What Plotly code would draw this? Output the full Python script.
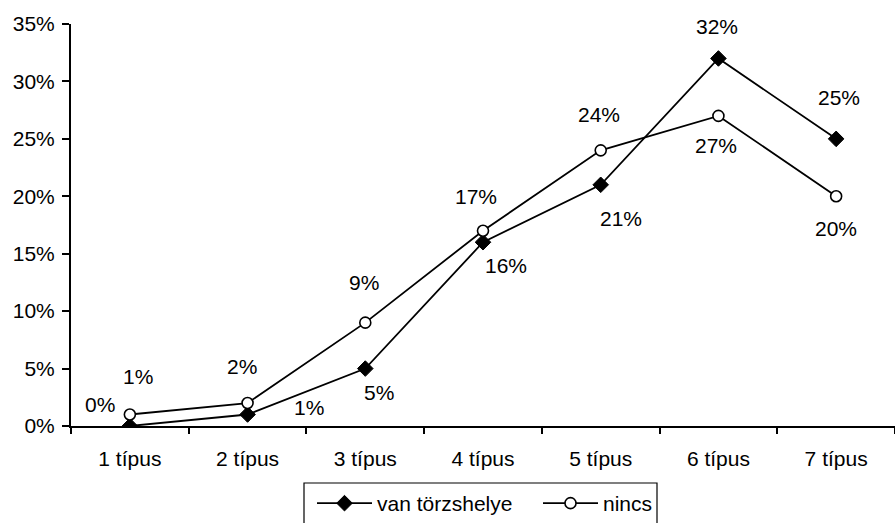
import plotly.graph_objects as go

categories = ["1 típus", "2 típus", "3 típus", "4 típus", "5 típus", "6 típus", "7 típus"]
van_torzshelye = [0, 1, 5, 16, 21, 32, 25]
nincs = [1, 2, 9, 17, 24, 27, 20]

# label offsets (px) relative to each point
van_offsets = [(-30, 22), (61, 7), (14, -24), (23, -23), (20, -34), (-1, 32), (3, 41)]
nincs_offsets = [(8, 38), (-6, 37), (-1, 40), (-7, 34), (-2, 36), (-2, -30), (0, -32)]

FONT = "Liberation Sans, Arial, sans-serif"
FS = 21

fig = go.Figure()
fig.add_trace(go.Scatter(
    x=categories, y=van_torzshelye, name="van törzshelye", mode="lines+markers",
    line=dict(color="black", width=1.8),
    marker=dict(symbol="diamond", size=12, color="black", line=dict(color="black", width=1)),
))
fig.add_trace(go.Scatter(
    x=categories, y=nincs, name="nincs", mode="lines+markers",
    line=dict(color="black", width=1.8),
    marker=dict(symbol="circle", size=11, color="white", line=dict(color="black", width=1.6)),
))

annotations = []
for cat, v, (dx, dy) in zip(categories, van_torzshelye, van_offsets):
    annotations.append(dict(x=cat, y=v, xref="x", yref="y", text=f"{v}%", showarrow=False,
                            xshift=dx, yshift=dy, font=dict(family=FONT, size=FS, color="black")))
for cat, v, (dx, dy) in zip(categories, nincs, nincs_offsets):
    annotations.append(dict(x=cat, y=v, xref="x", yref="y", text=f"{v}%", showarrow=False,
                            xshift=dx, yshift=dy, font=dict(family=FONT, size=FS, color="black")))

# plot area in pixels: left 71, right 895, top 24, bottom 426
PL, PR, PT, PB = 71, 895, 24, 426
def px_x(px):
    return (px - PL) / (PR - PL)
def px_y(py):
    return (PB - py) / (PB - PT)

legend_box = dict(type="rect", xref="paper", yref="paper",
                  x0=px_x(304), x1=px_x(657), y0=px_y(483), y1=px_y(540),
                  line=dict(color="black", width=1.2), fillcolor="rgba(0,0,0,0)", layer="above")

fig.update_layout(
    width=895, height=523,
    margin=dict(l=71, r=0, t=24, b=97),
    paper_bgcolor="white", plot_bgcolor="white",
    font=dict(family=FONT, size=FS, color="black"),
    showlegend=True,
    legend=dict(orientation="h", xref="container", yref="container",
                x=312 / 895, xanchor="left", y=(523 - 483) / 523, yanchor="top",
                borderwidth=0, bgcolor="rgba(0,0,0,0)",
                font=dict(family=FONT, size=FS, color="black"),
                itemwidth=55, entrywidth=156, tracegroupgap=0),
    shapes=[legend_box],
    annotations=annotations,
    xaxis=dict(type="category", range=[-0.5, 6.5], showline=True, linecolor="black", linewidth=2,
               ticks="outside", ticklen=6, tickwidth=1.5, tickcolor="black", tickson="boundaries",
               showgrid=False, zeroline=False, ticklabelstandoff=13,
               tickfont=dict(family=FONT, size=FS, color="black")),
    yaxis=dict(range=[0, 35], dtick=5, ticksuffix="%", showline=True, linecolor="black", linewidth=2,
               ticks="outside", ticklen=7, tickwidth=1.5, tickcolor="black",
               showgrid=False, zeroline=False, ticklabelstandoff=3,
               tickfont=dict(family=FONT, size=FS, color="black")),
    xaxis2=dict(overlaying="x", anchor="y", range=[-0.5, 6.5], tickvals=[0.5, 1.5, 2.5, 3.5, 4.5, 5.5, 6.5],
                ticks="inside", ticklen=6, tickwidth=1.5, tickcolor="black",
                showticklabels=False, showline=False, showgrid=False, zeroline=False),
    yaxis2=dict(overlaying="y", anchor="x", side="left", range=[0, 35], dtick=5,
                ticks="inside", ticklen=7, tickwidth=1.5, tickcolor="black",
                showticklabels=False, showline=False, showgrid=False, zeroline=False),
)

fig.write_html("out.html", config={"displayModeBar": False},
               post_script="document.body.style.margin='0';")
